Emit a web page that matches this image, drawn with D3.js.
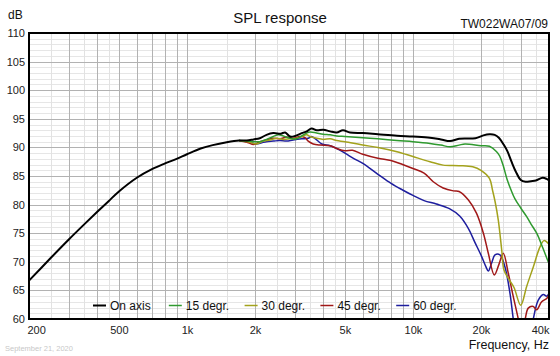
<!DOCTYPE html>
<html><head><meta charset="utf-8">
<script src="https://cdn.jsdelivr.net/npm/d3@7"></script>
<style>
html,body{margin:0;padding:0;background:#fff;}
svg{display:block;font-family:"Liberation Sans",Arial,sans-serif;}
</style></head>
<body>
<svg id="c" width="560" height="356"></svg>
<script>
// ---- data ----
const seriesNames = ["On axis","15 degr.","30 degr.","45 degr.","60 degr."];
const seriesColors = ["#000000","#2f9a2f","#a3a21c","#a01818","#1e1e9e"];
const xTickValues = [200,500,1000,2000,5000,10000,20000,40000];
const xTickLabels = ["200","500","1k","2k","5k","10k","20k","40k"];
const yTickValues = [60,65,70,75,80,85,90,95,100,105,110];

const onAxis = [
[200,66.7],[250,70.7],[300,73.9],[350,76.5],[400,78.7],[450,80.6],[500,82.3],[600,84.7],[700,86.2],[800,87.2],[900,88.0],[1000,88.8],[1150,89.8],[1300,90.4],[1500,90.9],[1700,91.2],[1840,91.2],[1970,91.4],[2100,91.6],[2250,92.2],[2410,92.5],[2600,92.4],[2720,92.6],[2860,91.9],[3010,92.0],[3220,92.5],[3390,92.8],[3560,93.3],[3750,93.0],[4010,93.1],[4300,92.8],[4600,92.6],[4900,93.0],[5270,92.6],[6000,92.5],[7000,92.3],[8500,92.05],[10000,91.9],[11900,91.7],[13300,91.4],[14600,91.1],[16000,91.5],[18900,91.6],[20500,92.1],[21800,92.3],[23000,92.2],[24000,91.7],[25200,90.5],[26200,89.3],[27300,87.5],[28500,85.8],[30000,84.3],[31500,84.0],[33300,84.1],[35000,84.2],[37500,84.7],[39000,84.5],[40000,84.2]];

const deg15 = [
[1700,91.2],[1840,91.1],[1970,91.0],[2100,91.0],[2180,91.2],[2250,91.4],[2410,91.9],[2540,92.2],[2670,92.0],[2860,91.6],[3060,91.5],[3270,92.2],[3500,92.7],[3750,92.5],[4010,92.3],[4300,92.2],[4600,92.0],[5000,91.9],[6000,91.7],[7000,91.5],[8500,91.2],[10000,91.0],[11900,90.7],[13300,90.4],[14600,90.1],[16000,90.4],[17000,90.6],[20000,90.3],[21800,90.2],[23400,89.3],[24200,88.5],[25000,87.0],[26200,84.2],[27200,82.5],[28280,81.0],[30000,79.4],[31860,77.9],[33300,76.6],[35280,75.0],[37500,72.5],[39720,70.0],[40000,69.8]];

const deg30 = [
[1700,91.2],[1900,90.9],[2030,90.6],[2180,91.1],[2330,91.3],[2500,91.6],[2670,91.4],[2860,91.5],[3060,91.6],[3220,91.9],[3390,92.2],[3500,91.9],[3750,91.6],[4010,91.4],[4300,91.5],[4600,91.2],[5000,91.0],[6000,90.4],[7000,90.0],[8500,89.25],[10000,88.4],[11900,87.5],[13600,86.9],[16000,86.8],[18400,86.6],[20000,86.0],[21800,84.6],[22500,82.5],[23100,80.5],[23860,77.3],[24700,72.1],[25270,68.6],[26420,67.1],[28000,65.5],[29980,62.4],[31860,65.7],[34080,69.1],[36490,72.6],[38000,73.7],[39720,73.2],[40000,73.0]];

const deg45 = [
[1700,91.2],[1870,90.8],[1970,90.5],[2100,91.0],[2250,91.3],[2410,91.6],[2580,91.5],[2760,91.8],[2950,91.6],[3160,91.9],[3330,91.7],[3440,91.1],[3620,90.6],[3880,90.4],[4300,90.3],[4600,89.8],[5000,89.4],[5400,89.5],[6000,88.8],[7000,88.1],[8000,87.7],[9000,87.0],[10000,86.3],[11200,85.5],[12300,84.0],[13600,82.9],[15100,82.4],[16000,82.3],[17600,80.8],[19100,78.5],[20500,75.0],[21550,71.5],[22900,67.7],[24000,69.5],[25100,71.5],[26420,68.0],[27800,63.9],[29250,60.0],[30300,57.0],[31400,60.0],[32380,61.9],[34080,62.2],[35280,61.6],[37120,63.0],[39070,63.6],[40000,64.2]];

const deg60 = [
[1700,91.2],[1900,90.9],[2030,90.6],[2140,90.8],[2250,91.0],[2410,91.1],[2580,91.2],[2760,91.1],[2950,91.3],[3220,91.5],[3440,91.6],[3560,91.9],[3750,91.3],[3950,90.6],[4300,90.3],[4600,89.8],[5000,89.0],[5500,88.0],[6000,87.2],[7000,85.3],[8000,83.7],[9000,82.55],[10000,81.6],[11200,80.7],[12700,80.1],[14500,79.3],[16100,78.0],[17600,75.8],[18800,73.4],[20100,71.0],[21000,69.2],[21550,68.4],[22300,69.8],[23070,71.2],[24270,71.2],[25540,69.1],[26880,64.5],[27800,60.0],[28800,56.0],[32500,55.0],[34080,60.0],[35860,63.3],[37740,64.3],[39070,64.0],[40000,64.5]];

const allSeries = [onAxis, deg15, deg30, deg45, deg60];

// ---- chart ----
const svg = d3.select("#c");
const L = 29, R = 549, T = 33, B = 319;
const x = d3.scaleLog().domain([200, 40000]).range([L, R]);
const y = d3.scaleLinear().domain([60, 110]).range([B, T]);

const g = svg.append("g");

// grid: minor horizontal (1 dB)
const minorY = d3.range(61, 110).filter(v => v % 5 !== 0);
g.selectAll(".hy").data(minorY).enter().append("line")
  .attr("x1", L).attr("x2", R)
  .attr("y1", d => Math.round(y(d)) + 0.5).attr("y2", d => Math.round(y(d)) + 0.5)
  .attr("stroke", "#e6e6e6").attr("stroke-width", 1);

// vertical grid
const majorX = [], minorX = [];
[100, 1000, 10000].forEach(dec => {
  for (let k = 1; k <= 9; k++) {
    const v = k * dec;
    if (v >= 200 && v <= 40000) majorX.push(v);
  }
  [1.5, 2.5, 3.5, 4.5].forEach(k => {
    const v = k * dec;
    if (v > 200 && v < 40000) minorX.push(v);
  });
});
g.selectAll(".vx").data(minorX).enter().append("line")
  .attr("y1", T).attr("y2", B)
  .attr("x1", d => Math.round(x(d)) + 0.5).attr("x2", d => Math.round(x(d)) + 0.5)
  .attr("stroke", "#e2e2e2").attr("stroke-width", 1);

// major horizontal
g.selectAll(".hY").data(yTickValues.slice(1, -1)).enter().append("line")
  .attr("x1", L).attr("x2", R)
  .attr("y1", d => Math.round(y(d)) + 0.5).attr("y2", d => Math.round(y(d)) + 0.5)
  .attr("stroke", "#b2b2b2").attr("stroke-width", 1);

g.selectAll(".vX").data(majorX.filter(v => v > 200 && v < 40000)).enter().append("line")
  .attr("y1", T).attr("y2", B)
  .attr("x1", d => Math.round(x(d)) + 0.5).attr("x2", d => Math.round(x(d)) + 0.5)
  .attr("stroke", "#b2b2b2").attr("stroke-width", 1);

// clip
svg.append("defs").append("clipPath").attr("id", "clip")
  .append("rect").attr("x", L).attr("y", T).attr("width", R - L).attr("height", B - T);

const line = d3.line().x(d => x(d[0])).y(d => y(d[1])).curve(d3.curveCatmullRom.alpha(0.5));
const curves = svg.append("g").attr("clip-path", "url(#clip)");
[4, 3, 2, 1, 0].forEach(i => {
  curves.append("path").datum(allSeries[i])
    .attr("d", line).attr("fill", "none")
    .attr("stroke", seriesColors[i])
    .attr("stroke-width", i === 0 ? 2 : 1.5)
    .attr("stroke-linejoin", "round");
});

// frame
svg.append("rect").attr("x", L).attr("y", T).attr("width", R - L).attr("height", B - T)
  .attr("fill", "none").attr("stroke", "#000").attr("stroke-width", 2);

// axes via d3
const yAxis = d3.axisLeft(y).tickValues(yTickValues).tickSize(0).tickPadding(4).tickFormat(d3.format("d"));
const ya = svg.append("g").attr("transform", `translate(${L},0)`).call(yAxis);
ya.select(".domain").remove();
ya.selectAll("text").attr("font-size", 11).attr("fill", "#222").attr("font-family", "Liberation Sans, Arial, sans-serif");

const xAxis = d3.axisBottom(x).tickValues(xTickValues).tickSize(0).tickPadding(7)
  .tickFormat((d, i) => xTickLabels[i]);
const xa = svg.append("g").attr("transform", `translate(0,${B})`).call(xAxis);
xa.select(".domain").remove();
xa.selectAll("text").attr("font-size", 11).attr("fill", "#222").attr("font-family", "Liberation Sans, Arial, sans-serif")
  .attr("text-anchor", (d, i) => i === 0 ? "start" : (i === xTickValues.length - 1 ? "end" : "middle"))
  .attr("dx", (d, i) => i === 0 ? -2 : 0);

// texts
svg.append("text").attr("x", 280).attr("y", 23).attr("text-anchor", "middle")
  .attr("font-size", 15).attr("fill", "#111").text("SPL response");
svg.append("text").attr("x", 8).attr("y", 19).attr("font-size", 12).attr("fill", "#111").text("dB");
svg.append("text").attr("x", 548).attr("y", 28).attr("text-anchor", "end")
  .attr("font-size", 12).attr("fill", "#111").text("TW022WA07/09");
svg.append("text").attr("x", 549).attr("y", 349).attr("text-anchor", "end")
  .attr("font-size", 12.5).attr("fill", "#111").text("Frequency, Hz");
svg.append("text").attr("x", 5).attr("y", 351).attr("font-size", 7.5).attr("fill", "#c8c8c8").text("September 21, 2020");

// legend
const leg = svg.append("g");
seriesNames.forEach((n, i) => {
  const lx = 93 + i * 75.8;
  leg.append("line").attr("x1", lx).attr("x2", lx + 13).attr("y1", 305.5).attr("y2", 305.5)
    .attr("stroke", seriesColors[i]).attr("stroke-width", i === 0 ? 2 : 1.5);
  leg.append("text").attr("x", lx + 17).attr("y", 309.5).attr("font-size", 12).attr("fill", "#111").text(n);
});
</script>
</body></html>
